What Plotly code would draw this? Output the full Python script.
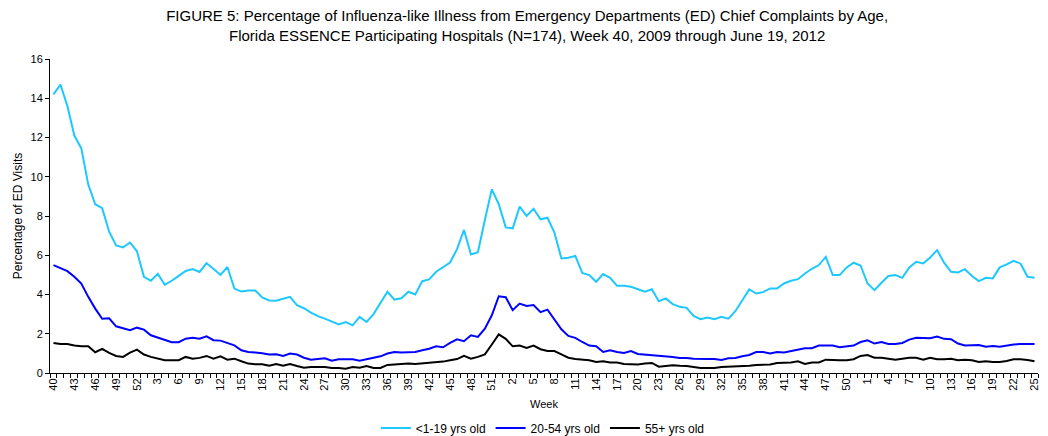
import plotly.graph_objects as go

# Week categories (MMWR weeks): 2009 wk40-52, 2010 wk1-52, 2011 wk1-52, 2012 wk1-25
weeks = list(range(40, 53)) + list(range(1, 53)) + list(range(1, 53)) + list(range(1, 26))

age_0_19 = [
    14.2, 14.7, 13.6, 12.1, 11.45, 9.6, 8.6, 8.4, 7.2, 6.5, 6.4, 6.65, 6.2,
    4.9, 4.7, 5.05, 4.5, 4.7, 4.95, 5.2, 5.3, 5.15, 5.6, 5.3, 5.0, 5.4, 4.3, 4.15,
    4.2, 4.2, 3.85, 3.7, 3.68, 3.78, 3.88, 3.45, 3.3, 3.08, 2.9, 2.77, 2.64, 2.47,
    2.6, 2.43, 2.86, 2.6, 3.0, 3.54, 4.14, 3.74, 3.81, 4.14, 4.0, 4.68, 4.77, 5.16,
    5.38, 5.63, 6.31, 7.29, 6.04, 6.16, 7.8, 9.36, 8.6,
    7.42, 7.37, 8.48, 8.0, 8.37, 7.83, 7.91, 7.15, 5.84, 5.87, 5.97, 5.1, 4.99,
    4.65, 5.04, 4.85, 4.44, 4.44, 4.39, 4.27, 4.14, 4.27, 3.66, 3.8, 3.51, 3.37,
    3.32, 2.91, 2.74, 2.83, 2.74, 2.86, 2.77, 3.15, 3.68, 4.26, 4.05, 4.12, 4.31,
    4.31, 4.56, 4.7, 4.78, 5.07, 5.31, 5.5, 5.92, 4.99, 4.99, 5.38, 5.62, 5.48,
    4.56, 4.22, 4.6, 4.94, 4.99, 4.85, 5.38, 5.67, 5.58, 5.89, 6.26, 5.62, 5.16,
    5.12, 5.29, 4.94, 4.68, 4.85, 4.82, 5.38, 5.53, 5.72, 5.57, 4.9, 4.85,
]

age_20_54 = [
    5.5, 5.33, 5.19, 4.9, 4.56, 3.88, 3.28, 2.76, 2.79, 2.38, 2.26, 2.18, 2.31,
    2.21, 1.92, 1.79, 1.67, 1.57, 1.57, 1.75, 1.8, 1.75, 1.87, 1.67, 1.65, 1.53,
    1.41, 1.16, 1.07, 1.04, 1.01, 0.94, 0.95, 0.87, 0.99, 0.94, 0.78, 0.68, 0.71,
    0.75, 0.63, 0.7, 0.7, 0.7, 0.63, 0.71, 0.77, 0.85, 0.99, 1.07, 1.04, 1.07,
    1.07, 1.16, 1.24, 1.36, 1.31, 1.53, 1.72, 1.62, 1.92, 1.84, 2.26, 2.94, 3.91,
    3.86, 3.2, 3.54, 3.42, 3.46, 3.1, 3.23, 2.76, 2.23, 1.89, 1.79, 1.58, 1.4,
    1.36, 1.07, 1.16, 1.07, 1.02, 1.12, 0.97, 0.94, 0.94, 0.89, 0.85, 0.82, 0.77,
    0.77, 0.73, 0.71, 0.71, 0.71, 0.66, 0.75, 0.77, 0.85, 0.92, 1.07, 1.07, 0.99,
    1.07, 1.05, 1.11, 1.19, 1.26, 1.26, 1.4, 1.4, 1.4, 1.31, 1.36, 1.4, 1.58,
    1.67, 1.5, 1.58, 1.48, 1.48, 1.53, 1.7, 1.8, 1.77, 1.77, 1.86, 1.74, 1.72,
    1.5, 1.4, 1.43, 1.43, 1.34, 1.38, 1.34, 1.4, 1.45, 1.48, 1.48, 1.48,
]

age_55_plus = [
    1.53, 1.48, 1.48, 1.4, 1.36, 1.36, 1.06, 1.23, 1.02, 0.87, 0.82, 1.04, 1.19,
    0.94, 0.82, 0.73, 0.65, 0.65, 0.65, 0.82, 0.73, 0.77, 0.87, 0.73, 0.85, 0.68,
    0.73, 0.6, 0.48, 0.45, 0.45, 0.37, 0.46, 0.37, 0.46, 0.36, 0.27, 0.31, 0.31,
    0.31, 0.26, 0.26, 0.22, 0.31, 0.27, 0.36, 0.26, 0.26, 0.41, 0.44, 0.48, 0.48,
    0.46, 0.49, 0.53, 0.53, 0.58, 0.65, 0.71, 0.87, 0.73, 0.82, 0.95, 1.45, 1.97,
    1.74, 1.36, 1.4, 1.28, 1.4, 1.21, 1.12, 1.12, 0.95, 0.78, 0.71, 0.68, 0.65,
    0.56, 0.6, 0.54, 0.54, 0.46, 0.46, 0.43, 0.48, 0.51, 0.32, 0.37, 0.39, 0.37,
    0.36, 0.31, 0.26, 0.26, 0.26, 0.31, 0.32, 0.36, 0.36, 0.37, 0.41, 0.41, 0.43,
    0.51, 0.53, 0.53, 0.6, 0.46, 0.54, 0.54, 0.68, 0.65, 0.65, 0.65, 0.7, 0.87,
    0.92, 0.78, 0.78, 0.73, 0.68, 0.73, 0.78, 0.78, 0.68, 0.78, 0.7, 0.7, 0.73,
    0.65, 0.68, 0.65, 0.56, 0.6, 0.56, 0.56, 0.61, 0.7, 0.7, 0.66, 0.6,
]

series_names = ["<1-19 yrs old", "20-54 yrs old", "55+ yrs old"]
series_colors = ["#1EC8FF", "#0000FF", "#000000"]

x_idx = list(range(len(weeks)))
tick_idx = x_idx[::3]
tick_txt = [str(weeks[i]) for i in tick_idx]

fig = go.Figure()
for name, vals, col in zip(series_names, [age_0_19, age_20_54, age_55_plus], series_colors):
    fig.add_trace(go.Scatter(x=x_idx, y=vals, mode="lines", name=name,
                             line=dict(color=col, width=2)))

font_family = "Liberation Sans, Arial, sans-serif"
fig.update_layout(
    width=1048, height=436,
    margin=dict(l=50, r=10, t=59, b=63, autoexpand=False),
    paper_bgcolor="white", plot_bgcolor="white",
    font=dict(family=font_family, size=11, color="black"),
    title=dict(
        text="FIGURE 5: Percentage of Influenza-like Illness from Emergency Departments (ED) Chief Complaints by Age,<br>"
             "Florida ESSENCE Participating Hospitals (N=174), Week 40, 2009 through June 19, 2012",
        x=0.503, xanchor="center", xref="container",
        y=1 - 21 / 436, yanchor="middle", yref="container",
        font=dict(family=font_family, size=15, color="black"),
    ),
    showlegend=True,
    legend=dict(orientation="h", x=0.518, xanchor="center", xref="container",
                y=8 / 436, yanchor="middle", yref="container",
                font=dict(size=12), itemwidth=30, tracegroupgap=0),
)
fig.update_xaxes(
    range=[-0.5, len(weeks) - 0.5], automargin=False,
    tickmode="array", tickvals=tick_idx, ticktext=tick_txt, tickangle=-90,
    ticks="", showgrid=False, zeroline=False,
    showline=True, linecolor="black", linewidth=1,
    minor=dict(ticks="outside", ticklen=4, tickcolor="black", tick0=-0.5, dtick=1, showgrid=False),
    title=dict(text="Week", font=dict(size=11), standoff=10),
    tickfont=dict(size=11),
)
fig.update_yaxes(
    range=[0, 16], tickmode="linear", tick0=0, dtick=2, automargin=False,
    ticks="outside", ticklen=4, tickcolor="black",
    showgrid=False, zeroline=False,
    showline=True, linecolor="black", linewidth=1,
    title=dict(text="Percentage of ED Visits", font=dict(size=12), standoff=5),
    tickfont=dict(size=11),
)

# remove the default page margin so the figure sits at the window's top-left corner
fig.write_html("out.html", config={"displayModeBar": False},
               post_script="document.body.style.margin='0';")
